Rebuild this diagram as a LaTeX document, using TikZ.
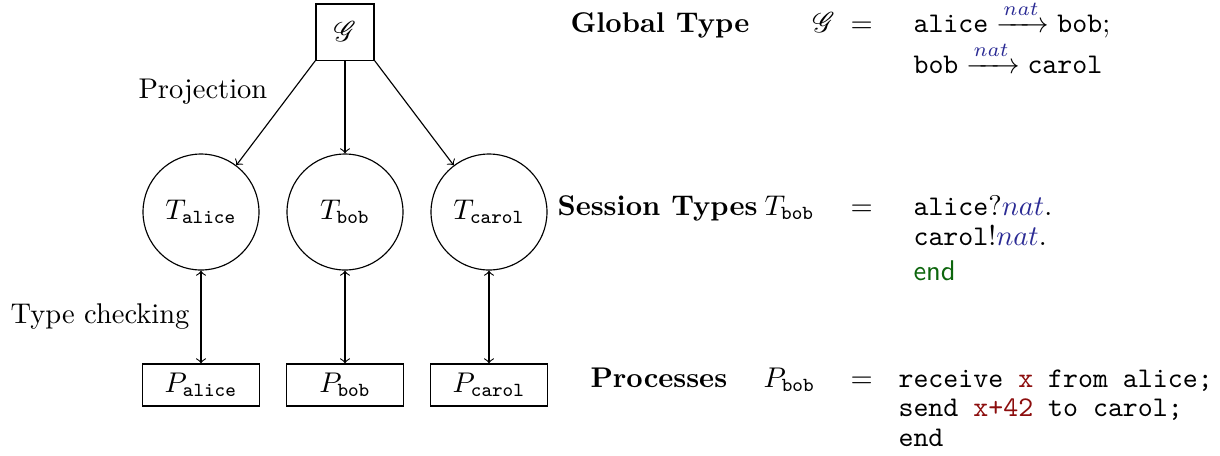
\documentclass[tikz,border=0pt]{standalone}
\usepackage{amsmath}
\usepackage{mathrsfs}
\usepackage{xcolor}
\definecolor{natblue}{rgb}{0.17,0.17,0.58}
\definecolor{varred}{rgb}{0.55,0.05,0.05}
\definecolor{endgreen}{rgb}{0.05,0.4,0.05}
\newcommand{\nt}{\textcolor{natblue}{nat}}
\tikzset{
  gbox/.style={draw, minimum width=20.4pt, minimum height=19.7pt, inner sep=0pt},
  tcirc/.style={draw, circle, minimum size=40.7pt, inner sep=0pt},
  pbox/.style={draw, minimum width=41pt, minimum height=14.7pt, inner sep=0pt},
  lbl/.style={anchor=base west, inner sep=0pt},
}
\begin{document}
\begin{tikzpicture}[x=0.3509pt,y=-0.3509pt]
\useasboundingbox (0,0) rectangle (1220,455);
% left diagram
\node[gbox] (G) at (345,32) {$\mathscr{G}$};
\node[tcirc] (Ta) at (201,212) {$T_{\texttt{alice}}$};
\node[tcirc] (Tb) at (345,212) {$T_{\texttt{bob}}$};
\node[tcirc] (Tc) at (489,212) {$T_{\texttt{carol}}$};
\node[pbox] (Pa) at (201,385) {$P_{\texttt{alice}}$};
\node[pbox] (Pb) at (345,385) {$P_{\texttt{bob}}$};
\node[pbox] (Pc) at (489,385) {$P_{\texttt{carol}}$};
\draw[->] (G.south west) -- (Ta);
\draw[->] (G.south) -- (Tb.north);
\draw[->] (G.south east) -- (Tc);
\draw[<->] (Ta.south) -- (Pa.north);
\draw[<->] (Tb.south) -- (Pb.north);
\draw[<->] (Tc.south) -- (Pc.north);
\node[lbl] (proj) at (138,98) {Projection};
\node[lbl] (tc) at (10,323) {Type checking};
% right: global type
\node[lbl] (gt) at (570,32) {\textbf{Global Type}};
\node[lbl] (gs) at (812,32) {$\mathscr{G}$};
\node[lbl] (geq) at (850,32) {$=$};
\node[lbl] (g1) at (913,32) {$\texttt{alice}\xrightarrow{\nt}\texttt{bob};$};
\node[lbl] (g2) at (913,73) {$\texttt{bob}\xrightarrow{\nt}\texttt{carol}$};
% session types
\node[lbl] (st) at (557,215) {\textbf{Session Types}};
\node[lbl] (ts) at (764,215) {$T_{\texttt{bob}}$};
\node[lbl] (teq) at (850,215) {$=$};
\node[lbl] (t1) at (913,215) {$\texttt{alice}?\nt.$};
\node[lbl] (t2) at (913,245) {$\texttt{carol}!\nt.$};
\node[lbl] (t3) at (913,280) {\textcolor{endgreen}{\textsf{end}}};
% processes
\node[lbl] (pr) at (590,387) {\textbf{Processes}};
\node[lbl] (ps) at (763,387) {$P_{\texttt{bob}}$};
\node[lbl] (peq) at (850,387) {$=$};
\node[lbl] (p1) at (898,387) {\texttt{receive \textcolor{varred}{x} from alice;}};
\node[lbl] (p2) at (898,416) {\texttt{send \textcolor{varred}{x+42} to carol;}};
\node[lbl] (p3) at (898,446) {\texttt{end}};
\end{tikzpicture}
\end{document}
